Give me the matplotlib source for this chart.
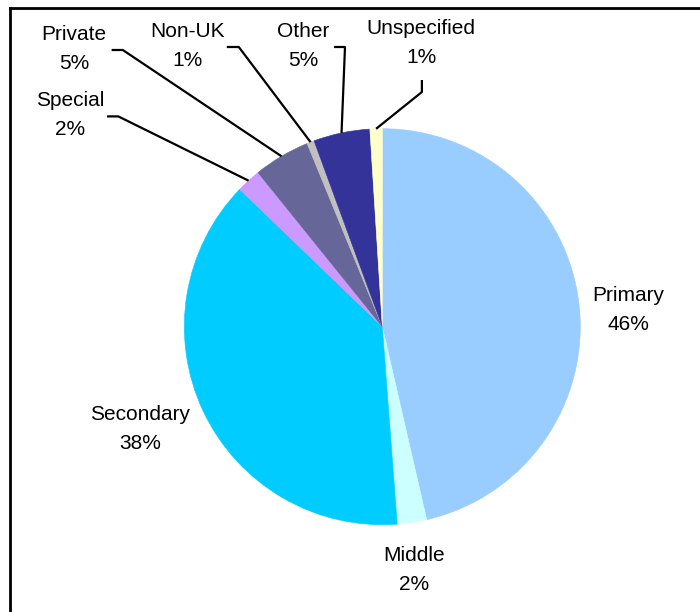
import numpy as np
import matplotlib.pyplot as plt
from matplotlib.lines import Line2D

plt.rcParams['font.family'] = ['Liberation Sans', 'DejaVu Sans']

# school type breakdown (percent)
categories = ['Primary', 'Middle', 'Secondary', 'Special', 'Private',
              'Non-UK', 'Other', 'Unspecified']
shares = [46.4, 2.4, 38.4, 2.0, 4.6, 0.6, 4.6, 1.0]
colors = ['#99CCFF', '#CCFFFF', '#00CCFF', '#CC99FF', '#666699',
          '#C0C0C0', '#333399', '#FFFFCC']

W, H = 700, 612
CX, CY, R = 382.3, 326.7, 198.0   # pie centre / radius in pixels


def px(x, y):
    # pixel position -> data coordinates (pie radius = 1)
    return (x - CX) / R, (CY - y) / R


# label block centres (pixels)
label_pos = {
    'Primary': (628, 310),
    'Middle': (414, 570),
    'Secondary': (140, 429),
    'Special': (70, 115),
    'Private': (74, 49),
    'Non-UK': (188, 46),
    'Other': (303, 46),
    'Unspecified': (421, 43),
}
# leader line elbows: (start, bend) in pixels
leaders = {
    'Special': ((107, 116.4), (118.3, 116.4)),
    'Private': ((111.6, 50), (122.8, 50)),
    'Non-UK': ((226.8, 47), (238.8, 47)),
    'Other': ((334, 47), (345, 47)),
    'Unspecified': ((421.9, 80), (421.9, 92)),
}

fig = plt.figure(figsize=(W / 100, H / 100), dpi=100)
ax = fig.add_axes([0, 0, 1, 1])

wedges, _ = ax.pie(shares, colors=colors, startangle=90, counterclock=False,
                   radius=1, wedgeprops=dict(linewidth=0.4))
for w in wedges:
    w.set_edgecolor(w.get_facecolor())

ax.set_aspect('auto')
ax.set_xlim(px(0, 0)[0], px(W, 0)[0])
ax.set_ylim(px(0, H)[1], px(0, 0)[1])
ax.axis('off')

for name, val, w in zip(categories, shares, wedges):
    lx, ly = px(*label_pos[name])
    ax.text(lx, ly, f'{name}\n{val:.0f}%', ha='center', va='center',
            multialignment='center', fontsize=15, linespacing=1.7)
    if name in leaders:
        mid = np.deg2rad((w.theta1 + w.theta2) / 2)
        rim = (np.cos(mid), np.sin(mid))
        p0, p1 = px(*leaders[name][0]), px(*leaders[name][1])
        ax.plot([p0[0], p1[0], rim[0]], [p0[1], p1[1], rim[1]],
                color='black', lw=1.6, solid_capstyle='butt')

# chart area frame (top and left edges)
fig.add_artist(Line2D([10 / W, 1], [1 - 8 / H, 1 - 8 / H], color='black', lw=2))
fig.add_artist(Line2D([10 / W, 10 / W], [0, 1 - 8 / H], color='black', lw=2))

fig.savefig('out.png', dpi=100)
